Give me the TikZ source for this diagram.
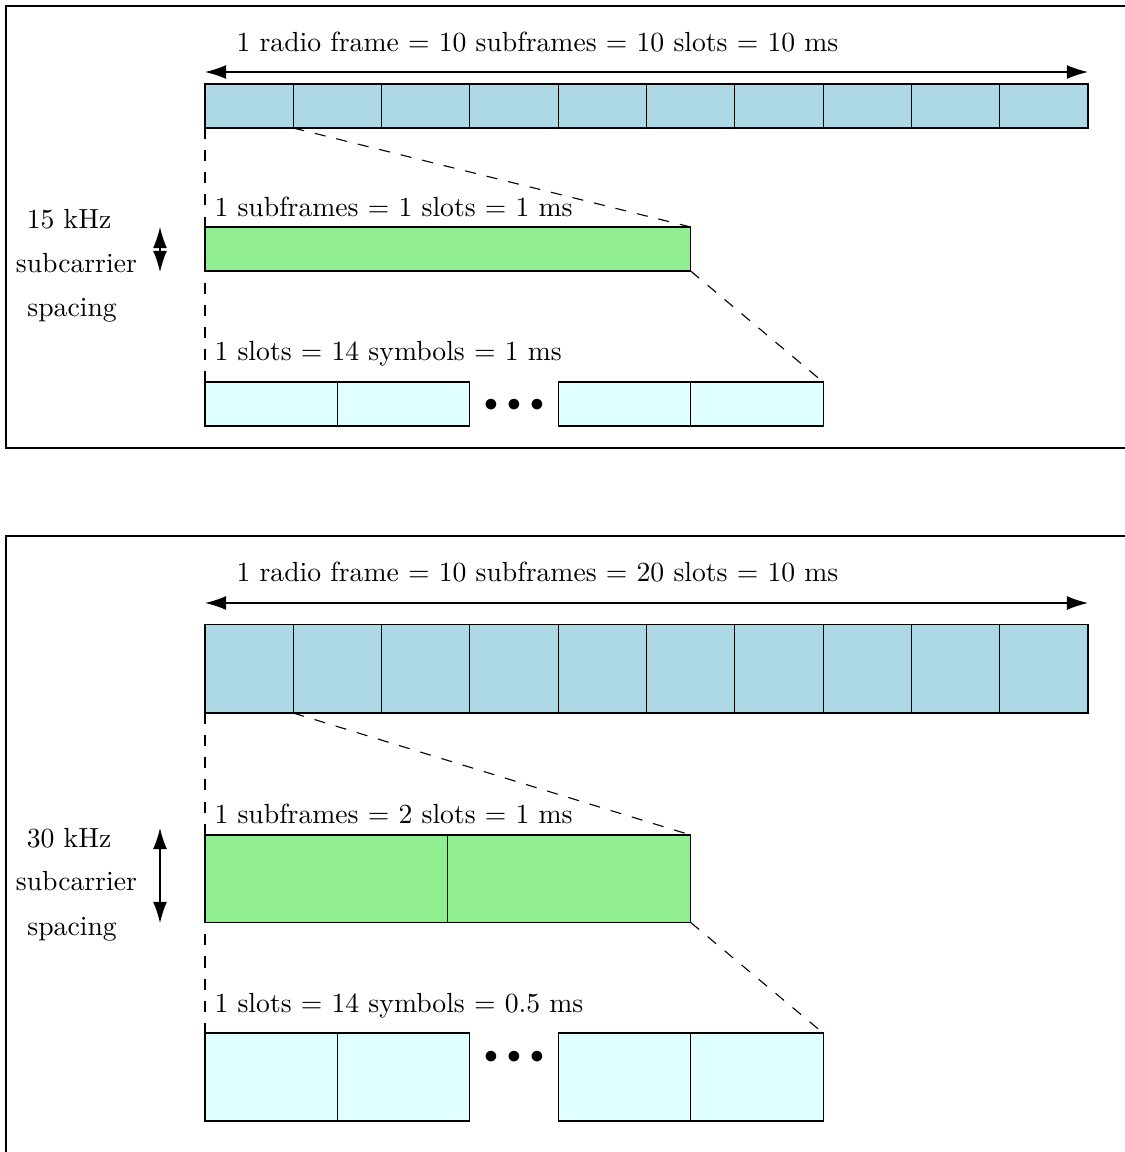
\documentclass[tikz,border=0pt]{standalone}
\usetikzlibrary{arrows.meta}
\definecolor{frameblue}{RGB}{173,216,230}
\definecolor{subgreen}{RGB}{144,238,144}
\definecolor{symcyan}{RGB}{224,255,255}
\begin{document}
\begin{tikzpicture}[x=0.3615pt,y=-0.3615pt,
  cell/.style={draw=black, rectangle, inner sep=0pt, outer sep=0pt, anchor=north west},
  rfcell/.style={cell, fill=frameblue, minimum width=31.92pt},
  sfcell/.style={cell, fill=subgreen},
  symcell/.style={cell, fill=symcyan, minimum width=47.88pt},
  lab/.style={inner sep=0pt, anchor=base west},
  dots/.style={inner sep=0pt, anchor=base},
  guide/.style={dash pattern=on 4pt off 4pt},
  arr/.style={{Latex[length=7.6pt,width=5pt]}-{Latex[length=7.6pt,width=5pt]}},
  panel/.style={draw=black}]
\useasboundingbox (0,0) rectangle (1125,1152);
\clip (0,0) rectangle (1125,1152);

% ---------- top panel ----------
\draw[panel] (6,6) rectangle (1140,448);
\foreach \i in {1,...,10}
  \node[rfcell, minimum height=15.91pt] (a\i) at ({205+(\i-1)*88.3},84) {};
\coordinate (ra) at (205,72);
\coordinate (rb) at (1088,72);
\draw[arr] (ra) -- (rb);
\node[lab] (ta) at (236,51.7) {1 radio frame = 10 subframes = 10 slots = 10 ms};

\node[sfcell, minimum width=175.56pt, minimum height=15.91pt] (g) at (205,227) {};
\node[lab] (tg) at (214,216) {1 subframes = 1 slots = 1 ms};

\node[symcell, minimum height=15.91pt] (s1) at (205,382) {};
\node[symcell, minimum height=15.91pt] (s2) at (337.45,382) {};
\node[symcell, minimum height=15.91pt] (s3) at (558.2,382) {};
\node[symcell, minimum height=15.91pt] (s4) at (690.65,382) {};
\node[dots] (d1) at (514,411) {$\bullet$\ $\bullet$\ $\bullet$};
\node[lab] (ts) at (214,360) {1 slots = 14 symbols = 1 ms};

\draw[guide] (a1.south west) -- (s1.north west);
\draw[guide] (a2.south west) -- (g.north east);
\draw[guide] (g.south east) -- (s4.north east);

\coordinate (ka) at (160,227);
\coordinate (kb) at (160,272);
\draw[arr] (ka) -- (kb);
\node[lab] (l1) at (26.3,228) {15 kHz};
\node[lab] (l2) at (15.3,272) {subcarrier};
\node[lab] (l3) at (26.9,316.7) {spacing};

% ---------- bottom panel ----------
\draw[panel] (6,536) rectangle (1140,1170);
\foreach \i in {1,...,10}
  \node[rfcell, minimum height=32.0pt] (b\i) at ({205+(\i-1)*88.3},624.5) {};
\coordinate (rc) at (205,603);
\coordinate (rd) at (1088,603);
\draw[arr] (rc) -- (rd);
\node[lab] (tb) at (236,581) {1 radio frame = 10 subframes = 20 slots = 10 ms};

\node[sfcell, minimum width=87.78pt, minimum height=31.6pt] (h1) at (205,835) {};
\node[sfcell, minimum width=87.78pt, minimum height=31.6pt] (h2) at (447.8,835) {};
\node[lab] (th) at (214,823.3) {1 subframes = 2 slots = 1 ms};

\node[symcell, minimum height=31.8pt] (u1) at (205,1033) {};
\node[symcell, minimum height=31.8pt] (u2) at (337.45,1033) {};
\node[symcell, minimum height=31.8pt] (u3) at (558.2,1033) {};
\node[symcell, minimum height=31.8pt] (u4) at (690.65,1033) {};
\node[dots] (d2) at (514,1063) {$\bullet$\ $\bullet$\ $\bullet$};
\node[lab] (tu) at (214,1012) {1 slots = 14 symbols = 0.5 ms};

\draw[guide] (b1.south west) -- (u1.north west);
\draw[guide] (b2.south west) -- (h2.north east);
\draw[guide] (h2.south east) -- (u4.north east);

\coordinate (kc) at (160,828);
\coordinate (kd) at (160,923);
\draw[arr] (kc) -- (kd);
\node[lab] (m1) at (26.3,847.7) {30 kHz};
\node[lab] (m2) at (15.3,890.7) {subcarrier};
\node[lab] (m3) at (26.9,935) {spacing};
\end{tikzpicture}
\end{document}
